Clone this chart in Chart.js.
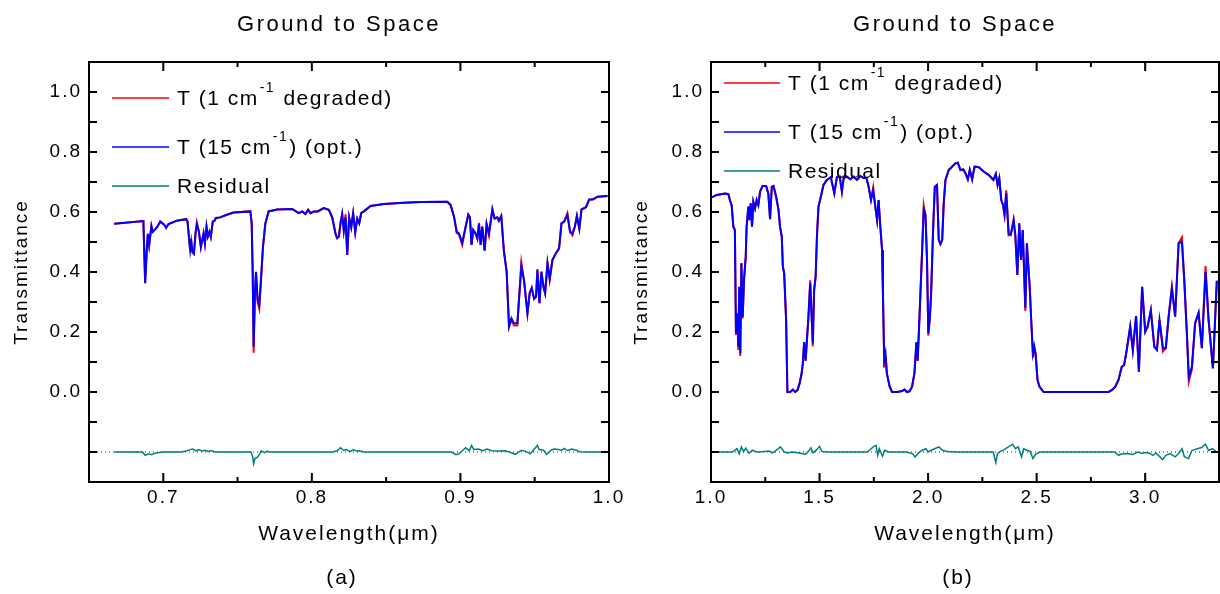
<!DOCTYPE html>
<html>
<head>
<meta charset="utf-8">
<title>Ground to Space</title>
<script src="https://cdn.jsdelivr.net/npm/chart.js@4.4.1/dist/chart.umd.min.js"></script>
<style>
  html, body { margin: 0; padding: 0; background: #fff; }
  #wrap { position: relative; width: 1220px; height: 594px; overflow: hidden; }
  canvas { position: absolute; top: 0; }
  #chartA { left: 0; }
  #chartB { left: 615px; }
</style>
</head>
<body>
<div id="wrap">
  <canvas id="chartA" width="625" height="594"></canvas>
  <canvas id="chartB" width="605" height="594"></canvas>
</div>
<script>
// ---- Panel (a): 0.65 - 1.0 um ----
const waveA = [0.667, 0.6866, 0.6878, 0.689, 0.6896, 0.6905, 0.692, 0.6929, 0.6945, 0.696, 0.698, 0.7006, 0.7019, 0.7035, 0.7057, 0.709, 0.7154, 0.7163, 0.7181, 0.7188, 0.7195, 0.7206, 0.7217, 0.7226, 0.724, 0.7253, 0.7271, 0.728, 0.7291, 0.730, 0.7311, 0.732, 0.7333, 0.7345, 0.7354, 0.7383, 0.7428, 0.7473, 0.7586, 0.7595, 0.7602, 0.7608, 0.7617, 0.7624, 0.7635, 0.7646, 0.7655, 0.7671, 0.7687, 0.7709, 0.7766, 0.7867, 0.7912, 0.7935, 0.7957, 0.7975, 0.7991, 0.8013, 0.804, 0.808, 0.8114, 0.8137, 0.8159, 0.817, 0.8182, 0.8193, 0.8204, 0.8215, 0.8227, 0.8238, 0.8251, 0.8265, 0.8278, 0.8292, 0.8305, 0.8319, 0.8332, 0.835, 0.8395, 0.8485, 0.862, 0.8732, 0.8912, 0.8934, 0.8957, 0.8975, 0.899, 0.9012, 0.9035, 0.9053, 0.9064, 0.9075, 0.9086, 0.9102, 0.9114, 0.9125, 0.9136, 0.9147, 0.9163, 0.9176, 0.9192, 0.9215, 0.923, 0.9248, 0.9259, 0.9275, 0.9293, 0.9311, 0.9327, 0.9343, 0.936, 0.9383, 0.941, 0.9428, 0.9451, 0.9466, 0.948, 0.9496, 0.9509, 0.9518, 0.9532, 0.9545, 0.9559, 0.957, 0.9586, 0.9601, 0.9619, 0.9642, 0.9664, 0.968, 0.9698, 0.972, 0.9738, 0.9754, 0.977, 0.9784, 0.98, 0.9815, 0.9845, 0.9867, 0.989, 0.9924, 0.999];
// T at 15 cm-1 (opt.)
const blueA = [0.561, 0.570, 0.364, 0.485, 0.527, 0.490, 0.553, 0.534, 0.542, 0.551, 0.568, 0.558, 0.547, 0.560, 0.564, 0.571, 0.576, 0.569, 0.473, 0.501, 0.469, 0.462, 0.529, 0.558, 0.534, 0.484, 0.529, 0.496, 0.551, 0.518, 0.534, 0.518, 0.568, 0.571, 0.580, 0.582, 0.591, 0.598, 0.602, 0.562, 0.396, 0.151, 0.333, 0.401, 0.307, 0.290, 0.356, 0.484, 0.562, 0.602, 0.608, 0.610, 0.596, 0.602, 0.593, 0.607, 0.596, 0.602, 0.602, 0.613, 0.607, 0.582, 0.529, 0.514, 0.518, 0.562, 0.593, 0.538, 0.582, 0.457, 0.582, 0.549, 0.596, 0.532, 0.578, 0.562, 0.596, 0.602, 0.620, 0.627, 0.631, 0.633, 0.634, 0.623, 0.584, 0.534, 0.529, 0.498, 0.551, 0.591, 0.582, 0.490, 0.540, 0.529, 0.511, 0.560, 0.490, 0.551, 0.471, 0.560, 0.529, 0.609, 0.578, 0.582, 0.571, 0.587, 0.468, 0.401, 0.218, 0.246, 0.229, 0.229, 0.418, 0.373, 0.262, 0.329, 0.347, 0.311, 0.317, 0.406, 0.296, 0.401, 0.351, 0.329, 0.429, 0.378, 0.440, 0.462, 0.479, 0.562, 0.568, 0.590, 0.534, 0.529, 0.551, 0.587, 0.544, 0.609, 0.616, 0.642, 0.642, 0.651, 0.653];
// T at 1 cm-1 degraded
const redA = [0.561, 0.570, 0.362, 0.485, 0.527, 0.490, 0.553, 0.534, 0.542, 0.551, 0.568, 0.558, 0.547, 0.560, 0.564, 0.571, 0.576, 0.569, 0.470, 0.510, 0.466, 0.460, 0.529, 0.566, 0.534, 0.482, 0.529, 0.494, 0.551, 0.518, 0.534, 0.516, 0.568, 0.571, 0.580, 0.582, 0.591, 0.598, 0.602, 0.562, 0.390, 0.131, 0.325, 0.398, 0.300, 0.278, 0.350, 0.484, 0.562, 0.602, 0.608, 0.610, 0.596, 0.602, 0.593, 0.607, 0.596, 0.602, 0.602, 0.613, 0.607, 0.582, 0.527, 0.512, 0.518, 0.566, 0.593, 0.538, 0.592, 0.457, 0.582, 0.549, 0.596, 0.532, 0.578, 0.562, 0.596, 0.602, 0.620, 0.627, 0.631, 0.633, 0.634, 0.623, 0.584, 0.530, 0.525, 0.490, 0.551, 0.591, 0.582, 0.490, 0.540, 0.526, 0.511, 0.564, 0.490, 0.551, 0.471, 0.560, 0.522, 0.609, 0.578, 0.582, 0.571, 0.587, 0.468, 0.401, 0.218, 0.240, 0.222, 0.222, 0.432, 0.373, 0.262, 0.329, 0.347, 0.311, 0.317, 0.410, 0.296, 0.401, 0.351, 0.329, 0.429, 0.372, 0.440, 0.462, 0.479, 0.562, 0.568, 0.596, 0.534, 0.522, 0.551, 0.587, 0.544, 0.609, 0.616, 0.642, 0.642, 0.651, 0.653];
const resWaveA = [0.667, 0.686, 0.6878, 0.690, 0.692, 0.695, 0.700, 0.712, 0.716, 0.718, 0.720, 0.722, 0.724, 0.726, 0.728, 0.730, 0.732, 0.735, 0.759, 0.7602, 0.7608, 0.7617, 0.7624, 0.7635, 0.7646, 0.766, 0.768, 0.770, 0.772, 0.814, 0.817, 0.8193, 0.8215, 0.823, 0.826, 0.828, 0.830, 0.832, 0.835, 0.894, 0.897, 0.899, 0.9035, 0.906, 0.9075, 0.909, 0.912, 0.915, 0.918, 0.921, 0.925, 0.930, 0.933, 0.937, 0.941, 0.944, 0.947, 0.9518, 0.953, 0.956, 0.958, 0.961, 0.963, 0.966, 0.968, 0.970, 0.972, 0.975, 0.978, 0.980, 0.985, 0.999];
const resA = [0, 0, -0.011, -0.006, -0.009, -0.003, 0, 0, 0.004, 0.008, 0.010, 0.004, 0.008, 0.003, 0.006, 0.002, 0.005, 0, 0, -0.017, -0.039, -0.022, -0.020, -0.017, -0.008, 0.004, -0.002, 0.002, 0, 0, 0.004, 0.014, 0.005, 0.008, 0.002, 0.008, 0.003, 0.004, 0, 0, -0.009, -0.006, 0.014, 0.004, 0.022, 0.008, 0.010, 0.004, 0.010, 0.004, 0.003, 0.004, 0, -0.008, 0.006, 0.002, -0.006, 0.022, 0.008, 0.006, -0.008, 0.006, 0.010, 0.008, 0.006, 0.012, 0.005, 0.010, 0.006, 0.001, 0, 0];

// ---- Panel (b): 1.0 - 3.34 um ----
const waveB = [1.003, 1.026, 1.065, 1.080, 1.087, 1.095, 1.103, 1.110, 1.115, 1.121, 1.126, 1.130, 1.135, 1.140, 1.146, 1.152, 1.160, 1.164, 1.172, 1.177, 1.183, 1.189, 1.195, 1.203, 1.210, 1.218, 1.226, 1.238, 1.254, 1.264, 1.272, 1.280, 1.288, 1.300, 1.311, 1.318, 1.326, 1.331, 1.337, 1.346, 1.352, 1.365, 1.377, 1.388, 1.398, 1.408, 1.417, 1.423, 1.429, 1.436, 1.442, 1.448, 1.457, 1.463, 1.469, 1.475, 1.482, 1.488, 1.495, 1.506, 1.518, 1.534, 1.552, 1.568, 1.580, 1.593, 1.603, 1.611, 1.626, 1.642, 1.657, 1.672, 1.688, 1.703, 1.716, 1.726, 1.737, 1.747, 1.754, 1.765, 1.772, 1.780, 1.788, 1.792, 1.798, 1.804, 1.810, 1.823, 1.834, 1.857, 1.880, 1.891, 1.903, 1.915, 1.926, 1.937, 1.946, 1.952, 1.961, 1.972, 1.980, 1.988, 1.995, 2.001, 2.008, 2.014, 2.023, 2.031, 2.041, 2.049, 2.057, 2.065, 2.072, 2.080, 2.095, 2.110, 2.126, 2.137, 2.149, 2.162, 2.172, 2.183, 2.192, 2.203, 2.214, 2.234, 2.257, 2.280, 2.301, 2.312, 2.320, 2.328, 2.337, 2.345, 2.352, 2.360, 2.371, 2.381, 2.394, 2.402, 2.411, 2.420, 2.428, 2.436, 2.448, 2.455, 2.468, 2.475, 2.483, 2.489, 2.495, 2.504, 2.513, 2.532, 2.670, 2.831, 2.846, 2.862, 2.877, 2.892, 2.903, 2.915, 2.931, 2.943, 2.958, 2.971, 2.986, 3.000, 3.011, 3.026, 3.042, 3.054, 3.066, 3.082, 3.095, 3.108, 3.123, 3.138, 3.154, 3.169, 3.180, 3.192, 3.201, 3.215, 3.230, 3.246, 3.261, 3.278, 3.292, 3.312, 3.330];
const blueB = [0.649, 0.657, 0.662, 0.660, 0.640, 0.623, 0.551, 0.540, 0.196, 0.262, 0.151, 0.351, 0.129, 0.429, 0.251, 0.373, 0.451, 0.551, 0.618, 0.573, 0.629, 0.551, 0.634, 0.612, 0.640, 0.623, 0.668, 0.687, 0.687, 0.662, 0.576, 0.684, 0.687, 0.651, 0.607, 0.551, 0.518, 0.418, 0.396, 0.240, 0.000, 0.000, 0.008, 0.000, 0.006, 0.027, 0.060, 0.093, 0.166, 0.104, 0.171, 0.240, 0.362, 0.262, 0.162, 0.340, 0.384, 0.518, 0.618, 0.651, 0.690, 0.707, 0.716, 0.662, 0.716, 0.718, 0.668, 0.713, 0.718, 0.709, 0.718, 0.707, 0.720, 0.713, 0.713, 0.684, 0.640, 0.673, 0.634, 0.573, 0.640, 0.551, 0.473, 0.329, 0.107, 0.129, 0.062, 0.018, 0.000, 0.000, 0.003, 0.008, 0.000, 0.003, 0.018, 0.062, 0.166, 0.104, 0.262, 0.462, 0.607, 0.590, 0.440, 0.196, 0.251, 0.329, 0.540, 0.684, 0.690, 0.507, 0.493, 0.507, 0.629, 0.707, 0.740, 0.751, 0.762, 0.764, 0.740, 0.742, 0.729, 0.709, 0.740, 0.709, 0.751, 0.749, 0.734, 0.723, 0.707, 0.727, 0.690, 0.713, 0.640, 0.624, 0.591, 0.662, 0.529, 0.524, 0.573, 0.524, 0.390, 0.562, 0.440, 0.540, 0.279, 0.496, 0.351, 0.240, 0.129, 0.153, 0.129, 0.040, 0.018, 0.000, 0.000, 0.000, 0.006, 0.018, 0.040, 0.084, 0.090, 0.140, 0.218, 0.140, 0.253, 0.068, 0.351, 0.201, 0.218, 0.273, 0.151, 0.140, 0.240, 0.146, 0.146, 0.251, 0.346, 0.251, 0.496, 0.500, 0.373, 0.196, 0.051, 0.084, 0.229, 0.264, 0.146, 0.400, 0.240, 0.079, 0.371];
const redB = [0.649, 0.657, 0.662, 0.660, 0.640, 0.623, 0.551, 0.540, 0.190, 0.255, 0.140, 0.351, 0.120, 0.429, 0.245, 0.373, 0.451, 0.551, 0.618, 0.573, 0.629, 0.551, 0.634, 0.612, 0.640, 0.623, 0.668, 0.687, 0.687, 0.662, 0.576, 0.684, 0.687, 0.651, 0.607, 0.551, 0.518, 0.418, 0.396, 0.240, 0.000, 0.000, 0.008, 0.000, 0.006, 0.032, 0.060, 0.098, 0.166, 0.104, 0.180, 0.240, 0.372, 0.262, 0.152, 0.340, 0.384, 0.518, 0.618, 0.651, 0.690, 0.707, 0.716, 0.662, 0.716, 0.718, 0.668, 0.713, 0.718, 0.709, 0.718, 0.707, 0.720, 0.713, 0.713, 0.684, 0.640, 0.682, 0.634, 0.573, 0.640, 0.551, 0.473, 0.329, 0.082, 0.120, 0.062, 0.018, 0.000, 0.000, 0.003, 0.008, 0.000, 0.003, 0.018, 0.062, 0.166, 0.104, 0.262, 0.462, 0.622, 0.590, 0.440, 0.188, 0.240, 0.329, 0.540, 0.684, 0.690, 0.507, 0.493, 0.507, 0.629, 0.707, 0.740, 0.751, 0.762, 0.764, 0.740, 0.742, 0.729, 0.709, 0.740, 0.709, 0.751, 0.749, 0.734, 0.723, 0.707, 0.727, 0.690, 0.713, 0.640, 0.624, 0.591, 0.672, 0.522, 0.524, 0.573, 0.515, 0.390, 0.562, 0.440, 0.540, 0.270, 0.496, 0.351, 0.240, 0.115, 0.145, 0.129, 0.040, 0.018, 0.000, 0.000, 0.000, 0.006, 0.018, 0.040, 0.084, 0.090, 0.140, 0.218, 0.140, 0.253, 0.068, 0.351, 0.201, 0.218, 0.273, 0.151, 0.140, 0.240, 0.135, 0.146, 0.251, 0.350, 0.251, 0.496, 0.515, 0.373, 0.196, 0.035, 0.075, 0.229, 0.264, 0.146, 0.420, 0.240, 0.079, 0.371];
const resWaveB = [1.003, 1.10, 1.11, 1.12, 1.13, 1.14, 1.15, 1.16, 1.175, 1.19, 1.205, 1.22, 1.27, 1.28, 1.29, 1.31, 1.32, 1.335, 1.35, 1.375, 1.42, 1.435, 1.45, 1.46, 1.47, 1.485, 1.50, 1.51, 1.53, 1.72, 1.73, 1.747, 1.76, 1.768, 1.775, 1.79, 1.80, 1.82, 1.90, 1.93, 1.94, 1.956, 1.973, 1.99, 2.00, 2.015, 2.03, 2.05, 2.066, 2.09, 2.13, 2.30, 2.312, 2.32, 2.335, 2.35, 2.37, 2.39, 2.402, 2.415, 2.43, 2.44, 2.455, 2.47, 2.483, 2.495, 2.515, 2.86, 2.877, 2.89, 2.915, 2.943, 2.965, 2.985, 3.0, 3.02, 3.035, 3.05, 3.08, 3.095, 3.115, 3.138, 3.154, 3.17, 3.18, 3.20, 3.215, 3.24, 3.26, 3.278, 3.292, 3.31, 3.33];
const resB = [0, 0, 0.006, 0.011, -0.006, 0.017, 0.001, 0.013, -0.004, 0.006, 0.002, 0, 0.003, -0.003, 0, 0.011, 0.017, 0.002, -0.003, 0, -0.005, -0.008, 0.003, 0.014, -0.003, 0.006, 0.019, 0.002, 0, 0, 0.006, 0.017, 0.022, -0.011, 0.011, -0.014, 0.006, 0, 0, -0.006, -0.017, -0.003, 0.006, 0.011, 0, 0.006, 0.011, 0.017, 0.006, 0.002, 0, 0, -0.035, -0.005, 0.003, 0.008, 0.017, 0.026, 0.011, 0.017, -0.016, 0.011, 0.006, 0.002, -0.022, -0.008, 0, 0, -0.011, -0.007, -0.005, -0.008, 0, -0.005, -0.002, -0.004, -0.011, -0.003, -0.025, -0.011, -0.005, -0.016, -0.005, 0.011, -0.016, -0.022, 0.005, 0.011, 0.015, 0.026, 0.005, 0.011, 0];

// residual curve is drawn shifted down to this level
const residualOffset = -0.2;
const yTickLabels = ['0.0', '0.2', '0.4', '0.6', '0.8', '1.0'];

const FONT = 'Arial, "Liberation Sans", sans-serif';

function isMultiple(v, step) {
    const r = v / step;
    return Math.abs(r - Math.round(r)) < 1e-6;
}

// Frame + inward tick marks, Origin style
const framePlugin = {
    id: 'panelFrame',
    beforeDraw(chart) {
        chart.ctx.letterSpacing = '2px';
    },
    afterDatasetsDraw(chart, args, opts) {
        const { ctx, chartArea: a, scales: { x, y } } = chart;
        ctx.save();
        ctx.strokeStyle = '#000';
        ctx.lineWidth = 2;
        ctx.strokeRect(a.left, a.top, a.right - a.left, a.bottom - a.top);
        ctx.beginPath();
        x.ticks.forEach(t => {
            const px = x.getPixelForValue(t.value);
            if (px < a.left + 1 || px > a.right - 1) return;
            const len = isMultiple(t.value, opts.majorStep) ? 9 : 5;
            ctx.moveTo(px, a.bottom); ctx.lineTo(px, a.bottom - len);
            ctx.moveTo(px, a.top); ctx.lineTo(px, a.top + len);
        });
        y.ticks.forEach(t => {
            const py = y.getPixelForValue(t.value);
            if (py < a.top + 1 || py > a.bottom - 1) return;
            ctx.moveTo(a.left, py); ctx.lineTo(a.left + 8, py);
            ctx.moveTo(a.right, py); ctx.lineTo(a.right - 8, py);
        });
        ctx.stroke();
        ctx.restore();
    },
    afterDraw(chart, args, opts) {
        // panel title and caption, centred over the plot
        const { ctx, chartArea: a } = chart;
        const cx = (a.left + a.right) / 2 + opts.textShift;
        ctx.save();
        ctx.fillStyle = '#000';
        ctx.textAlign = 'center';
        ctx.textBaseline = 'middle';
        ctx.letterSpacing = '2.5px';
        ctx.font = '22px ' + FONT;
        ctx.fillText(opts.title, cx, 25);
        ctx.letterSpacing = '2px';
        ctx.font = '21px ' + FONT;
        ctx.fillText(opts.caption, cx + 3, 578);
        ctx.restore();
    }
};

// label with a "cm⁻¹" superscript
function drawLabel(ctx, text, x, y) {
    const parts = text.split('⁻¹');
    ctx.font = '21px ' + FONT;
    ctx.fillText(parts[0], x, y);
    x += ctx.measureText(parts[0]).width;
    if (parts.length > 1) {
        ctx.font = '14px ' + FONT;
        ctx.fillText('-1', x + 1, y - 11);
        x += ctx.measureText('-1').width + 2;
        ctx.font = '21px ' + FONT;
        ctx.fillText(parts[1], x, y);
    }
}

// legend drawn inside the plot area
const insideLegend = {
    id: 'insideLegend',
    afterDraw(chart, args, opts) {
        const ctx = chart.ctx;
        ctx.save();
        ctx.letterSpacing = '1.5px';
        ctx.fillStyle = '#000';
        ctx.textBaseline = 'middle';
        let row = 0;
        chart.data.datasets.forEach(ds => {
            if (!ds.label) return;
            const yy = opts.rows[row++];
            ctx.strokeStyle = ds.borderColor;
            ctx.lineWidth = 1.5;
            ctx.beginPath();
            ctx.moveTo(opts.x0, yy);
            ctx.lineTo(opts.x1, yy);
            ctx.stroke();
            drawLabel(ctx, ds.label, opts.x1 + 8, yy + 1);
        });
        ctx.restore();
    }
};

function points(xs, ys, shift) {
    return xs.map((v, i) => ({ x: v, y: ys[i] + (shift || 0) }));
}

function makePanel(id, p) {
    const el = document.getElementById(id);
    return new Chart(el.getContext('2d'), {
        type: 'line',
        data: {
            datasets: [
                { label: 'T (1 cm⁻¹ degraded)', data: points(p.wave, p.red), borderColor: '#ff0000', borderWidth: 2, order: 2 },
                { label: 'T (15 cm⁻¹) (opt.)', data: points(p.wave, p.blue), borderColor: '#0000ff', borderWidth: 2, order: 1 },
                { label: 'Residual', data: points(p.resWave, p.res, residualOffset), borderColor: '#008080', borderWidth: 1.5, order: 0 },
                { label: '', data: [{ x: p.xMin, y: residualOffset }, { x: p.xMax, y: residualOffset }],
                  borderColor: '#333', borderWidth: 1, borderDash: [1, 3], order: 3 }
            ]
        },
        options: {
            responsive: false,
            animation: false,
            devicePixelRatio: 1,
            elements: { point: { radius: 0 }, line: { tension: 0 } },
            layout: { padding: { left: 0, right: p.padRight, top: 62, bottom: 42 } },
            plugins: {
                legend: { display: false },
                tooltip: { enabled: false },
                panelFrame: { majorStep: p.majorStep, title: 'Ground to Space', caption: p.caption, textShift: -10 },
                insideLegend: p.legend
            },
            scales: {
                x: {
                    type: 'linear', min: p.xMin, max: p.xMax,
                    grid: { display: false, drawTicks: false },
                    border: { display: false },
                    ticks: {
                        stepSize: p.xStep, autoSkip: false, maxRotation: 0, padding: 4,
                        color: '#000', font: { family: FONT, size: 19 },
                        callback: v => isMultiple(v, p.majorStep) ? v.toFixed(1) : ''
                    },
                    title: { display: true, text: 'Wavelength(μm)', color: '#000',
                             font: { family: FONT, size: 21 }, padding: { top: 0, bottom: 5 } },
                    afterFit: s => { s.height = 70; s.paddingLeft = 0; s.paddingRight = 0; }
                },
                y: {
                    type: 'linear', min: -0.3, max: 1.1,
                    grid: { display: false, drawTicks: false },
                    border: { display: false },
                    ticks: {
                        stepSize: 0.1, autoSkip: false, padding: 7,
                        color: '#000', font: { family: FONT, size: 19 },
                        callback: v => {
                            const s = v.toFixed(1);
                            return yTickLabels.includes(s) ? s : '';
                        }
                    },
                    title: { display: true, text: 'Transmittance', color: '#000',
                             font: { family: FONT, size: 19 }, padding: { top: p.yTitlePad, bottom: 0 } },
                    afterFit: s => { s.width = p.yWidth; s.paddingTop = 0; s.paddingBottom = 0; }
                }
            }
        },
        plugins: [framePlugin, insideLegend]
    });
}

makePanel('chartA', {
    wave: waveA, blue: blueA, red: redA, resWave: resWaveA, res: resA,
    xMin: 0.65, xMax: 1.0, xStep: 0.05, majorStep: 0.1,
    yWidth: 89, padRight: 16, yTitlePad: 10, caption: '(a)',
    legend: { x0: 112, x1: 169, rows: [98, 147, 186] }
});

makePanel('chartB', {
    wave: waveB, blue: blueB, red: redB, resWave: resWaveB, res: resB,
    xMin: 1.0, xMax: 3.34, xStep: 0.25, majorStep: 0.5,
    yWidth: 96, padRight: 1, yTitlePad: 15, caption: '(b)',
    legend: { x0: 109, x1: 165, rows: [83, 132, 171] }
});
</script>
</body>
</html>
